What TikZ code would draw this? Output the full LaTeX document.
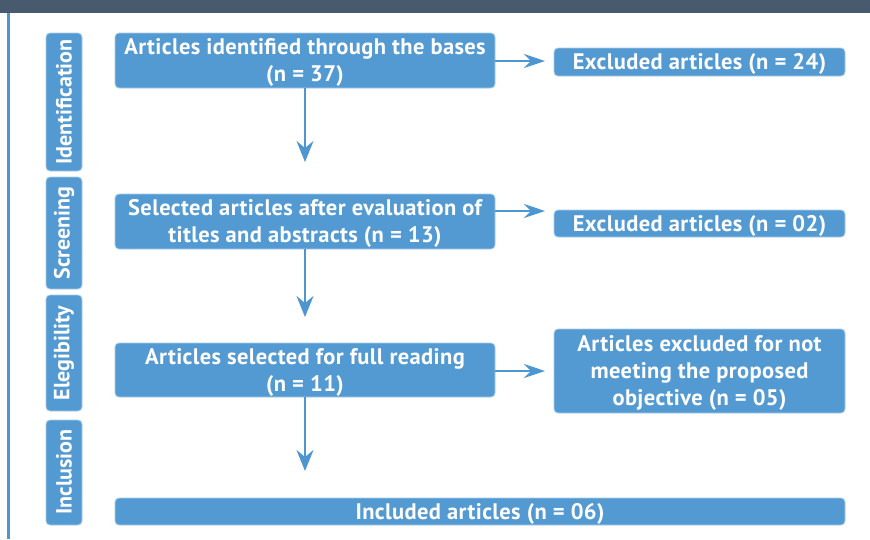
\documentclass[tikz,border=0pt]{standalone}
\usepackage{fontspec}
\setmainfont{PT Sans}
\newfontfamily\boxfont[LetterSpace=1.7]{PT Sans}
\usetikzlibrary{arrows.meta}
\definecolor{boxblue}{HTML}{5399D2}
\definecolor{edgeblue}{HTML}{A9CDEB}
\definecolor{barslate}{HTML}{475A6E}
\definecolor{lineblue}{HTML}{4E96D0}
\tikzset{
  bx/.style={fill=boxblue, draw=edgeblue, line width=0.8pt, rounded corners=4pt},
  txt/.style={text=white, font=\boxfont\fontsize{22.5}{27}\selectfont\bfseries, align=center, inner sep=0pt},
  side/.style={text=white, font=\fontsize{22}{24}\selectfont\bfseries, rotate=90, inner sep=0pt},
  vconn/.style={draw=lineblue, line width=2pt, -{Stealth[length=21pt,width=17pt,inset=7pt]}},
  hconn/.style={draw=lineblue, line width=1.6pt, -{Stealth[length=21pt,width=14pt,inset=7pt]}}
}
\begin{document}
\begin{tikzpicture}[x=1pt,y=-1pt]
\useasboundingbox (0,0) rectangle (870,539);
\fill[white] (0,0) rectangle (870,539);
\fill[barslate] (0,0) rectangle (870,13);
\fill[lineblue] (7,13) rectangle (10,539);
% side labels
\draw[bx] (46,33) rectangle (82,171);
\node[side] (sid) at (64,102) {Identification};
\draw[bx] (46,177) rectangle (82,289);
\node[side] (ssc) at (64,233) {Screening};
\draw[bx] (46,295) rectangle (82,411);
\node[side] (sel) at (64,353) {Elegibility};
\draw[bx] (46,420) rectangle (82,525);
\node[side] (sin) at (64,472) {Inclusion};
% main boxes
\draw[bx] (115,33) rectangle (495,88);
\coordinate (b1s) at (305,88); \coordinate (b1e) at (495,61);
\node[txt] (b1) at (305,62.5) {Articles identified through the bases\\(n = 37)};
\draw[bx] (554,48) rectangle (845,76);
\coordinate (e1w) at (545,61);
\node[txt] (e1) at (699.5,64) {Excluded articles (n = 24)};

\draw[bx] (115,194) rectangle (495,249);
\coordinate (b2n) at (305,162); \coordinate (b2s) at (305,249); \coordinate (b2e) at (495,211);
\node[txt] (b2) at (305,223.5) {Selected articles after evaluation of\\titles and abstracts (n = 13)};
\draw[bx] (554,210) rectangle (845,237);
\coordinate (e2w) at (545,211);
\node[txt] (e2) at (699.5,225.5) {Excluded articles (n = 02)};

\draw[bx] (115,343) rectangle (495,397);
\coordinate (b3n) at (305,317); \coordinate (b3s) at (305,397); \coordinate (b3e) at (495,371);
\node[txt] (b3) at (305,372) {Articles selected for full reading\\(n = 11)};
\draw[bx] (554,329) rectangle (845,413);
\coordinate (e3w) at (545,371);
\node[txt] (e3) at (699.5,373) {Articles excluded for not\\meeting the proposed\\objective (n = 05)};

\draw[bx] (115,498) rectangle (845,525);
\coordinate (b4n) at (305,471);
\node[txt] (b4) at (480,513.5) {Included articles (n = 06)};

\draw[vconn] (b1s) -- (b2n);
\draw[vconn] (b2s) -- (b3n);
\draw[vconn] (b3s) -- (b4n);
\draw[hconn] (b1e) -- (e1w);
\draw[hconn] (b2e) -- (e2w);
\draw[hconn] (b3e) -- (e3w);
\end{tikzpicture}
\end{document}
